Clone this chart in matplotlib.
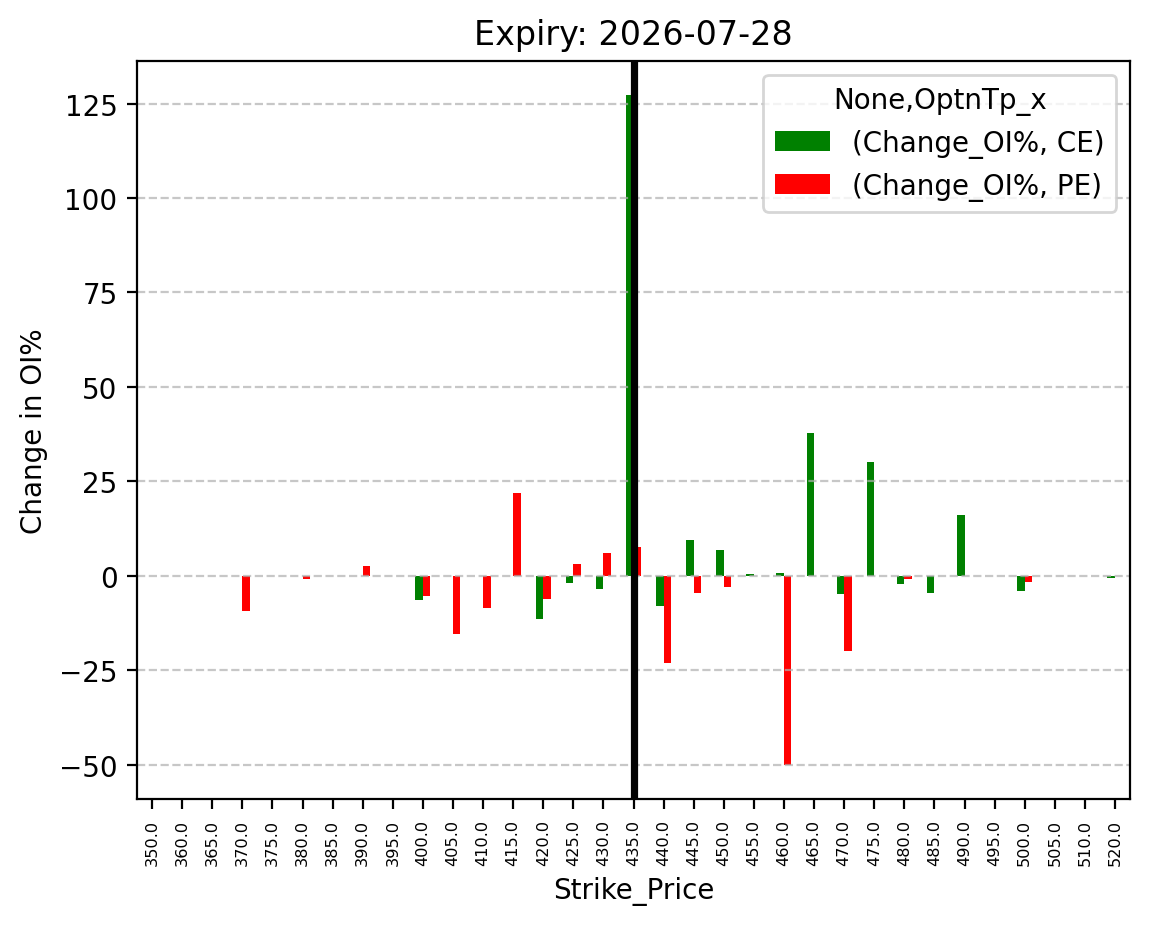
import matplotlib
matplotlib.use("Agg")
import matplotlib.pyplot as plt
import numpy as np
import pandas as pd

strikes = [350.0, 360.0, 365.0, 370.0, 375.0, 380.0, 385.0, 390.0, 395.0, 400.0,
           405.0, 410.0, 415.0, 420.0, 425.0, 430.0, 435.0, 440.0, 445.0, 450.0,
           455.0, 460.0, 465.0, 470.0, 475.0, 480.0, 485.0, 490.0, 495.0, 500.0,
           505.0, 510.0, 520.0]
ce_change = [0, 0, 0, 0, 0, 0, 0, 0, 0, -6.4,
             0, 0, 0, -11.4, -1.8, -3.4, 127.4, -7.9, 9.5, 6.9,
             0.4, 0.7, 37.8, -4.8, 30.1, -2.2, -4.5, 16.1, 0, -4.0,
             0, 0, -0.6]
pe_change = [0, 0, 0, -9.4, 0, -0.8, 0, 2.6, 0, -5.3,
             -15.3, -8.4, 21.9, -6.1, 3.2, 6.1, 7.6, -23.0, -4.5, -2.9,
             0, -50.2, 0, -19.8, 0, -0.9, 0, 0, 0, -1.7,
             0, 0, 0]
current_strike = 435.0
expiry = "2026-07-28"

cols = pd.MultiIndex.from_tuples([("Change_OI%", "CE"), ("Change_OI%", "PE")],
                                 names=[None, "OptnTp_x"])
df = pd.DataFrame(np.column_stack([ce_change, pe_change]),
                  index=pd.Index(strikes, name="Strike_Price"), columns=cols)

fig = plt.figure(figsize=(1149 / 200, 928 / 200), dpi=200)
ax = fig.add_axes([137 / 1149, 1 - 800 / 928, (1130 - 137) / 1149, (800 - 62) / 928])
df.plot(kind="bar", ax=ax, color=["green", "red"])

idx = strikes.index(current_strike)
ax.axvline(idx, color="black", linewidth=2.6)
ax.grid(axis="y", linestyle="--", alpha=0.7)
ax.set_title(f"Expiry: {expiry}", fontsize=12)
ax.set_ylabel("Change in OI%")
ax.set_xlabel("Strike_Price")
ax.tick_params(axis="x", labelsize=5.8, labelrotation=90)
fig.savefig("out.png", dpi=200)
